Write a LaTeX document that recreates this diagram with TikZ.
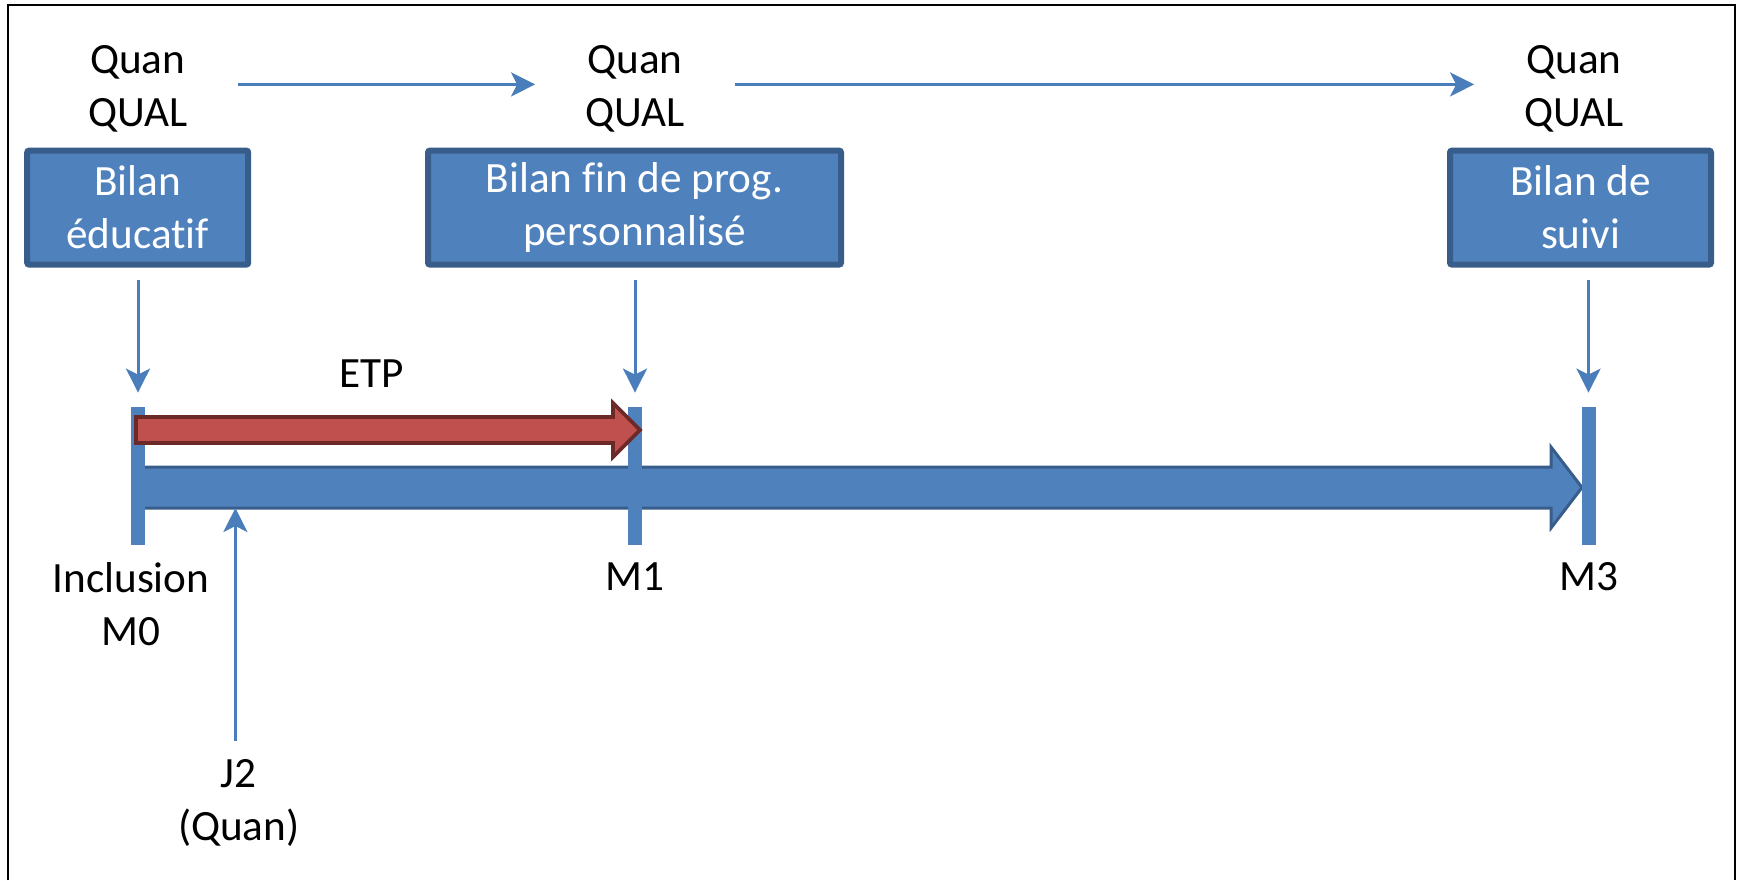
\documentclass[tikz,border=0pt]{standalone}
\usepackage{fontspec}
\setmainfont{Carlito}[Ligatures=NoCommon]
\usetikzlibrary{arrows.meta}
\definecolor{officeblue}{HTML}{4F81BD}
\definecolor{officeedge}{HTML}{385D8A}
\definecolor{linkblue}{HTML}{4A7EBB}
\definecolor{etpfill}{HTML}{C0504D}
\definecolor{etpedge}{HTML}{6B2A28}

\begin{document}
\begin{tikzpicture}[x=0.5pt,y=-0.5pt,
  every node/.style={font=\fontsize{21.6pt}{26.5pt}\selectfont, inner sep=0pt, align=center},
  stagebox/.style={draw=officeedge, fill=officeblue, line width=3pt, text=white,
                   minimum height=57pt, rounded corners=1pt},
  methods/.style={minimum width=46pt},
  conn/.style={draw=linkblue, line width=1.5pt,
               -{Stealth[length=12pt,width=12pt,inset=3pt]}},
  tickbar/.style={fill=officeblue, minimum width=7pt, minimum height=69pt},
  bigarrow/.style={line width=1.5pt, line join=miter}]

\useasboundingbox (0,0) rectangle (1741,880);

% frame (open at the bottom)
\draw[line width=1pt] (8,880) -- (8,4.5) -- (1735,4.5) -- (1735,880);

% methods above each stage
\node[methods] (q1) at (137.7,89) {Quan\\QUAL};
\node[methods] (q2) at (635,89) {Quan\\QUAL};
\node[methods] (q3) at (1574,89) {Quan\\QUAL};

% stage boxes
\node[stagebox, minimum width=110.5pt] (b1) at (137.7,207.6) {Bilan\\éducatif};
\node[stagebox, minimum width=206.5pt] (b2) at (634.5,207.6) {Bilan fin de prog.\\personnalisé};
\node[stagebox, minimum width=130.5pt] (b3) at (1580.5,207.6) {Bilan de\\suivi};

% main time line
\draw[bigarrow, draw=officeedge, fill=officeblue]
  (138,467) -- (1551,467) -- (1551,447) -- (1582,487.5) -- (1551,528)
  -- (1551,508) -- (138,508) -- cycle;

% time marks
\node[tickbar] (t0) at (138,476) {};
\node[tickbar] (t1) at (635,476) {};
\node[tickbar] (t3) at (1588.5,476) {};

% education programme period
\draw[bigarrow, line width=1.8pt, draw=etpedge, fill=etpfill]
  (136,417) -- (613,417) -- (613,403) -- (640,430) -- (613,457)
  -- (613,443) -- (136,443) -- cycle;
\node (etp) at (372,374) {ETP};

% labels under the time line
\node (m0) at (131,604) {Inclusion\\M0};
\node (m1) at (635,577) {M1};
\node (m3) at (1589,577) {M3};
\node (j2) at (238.7,803) {J2\\(Quan)};
\coordinate (jtip) at (235.4,508);

% connectors
\draw[conn, shorten <=25pt, shorten >=25pt] ([yshift=2.3pt]q1.east) -- ([yshift=2.3pt]q2.west);
\draw[conn, shorten <=25pt, shorten >=25pt] ([yshift=2.3pt]q2.east) -- ([yshift=2.3pt]q3.west);
\draw[conn, shorten <=6pt, shorten >=7pt] (b1.south -| t0) -- (t0.north);
\draw[conn, shorten <=6pt, shorten >=7pt] (b2.south -| t1) -- (t1.north);
\draw[conn, shorten <=6pt, shorten >=7pt] (b3.south -| t3) -- (t3.north);
\draw[conn, shorten <=9pt] (j2.north -| jtip) -- (jtip);

\end{tikzpicture}
\end{document}
